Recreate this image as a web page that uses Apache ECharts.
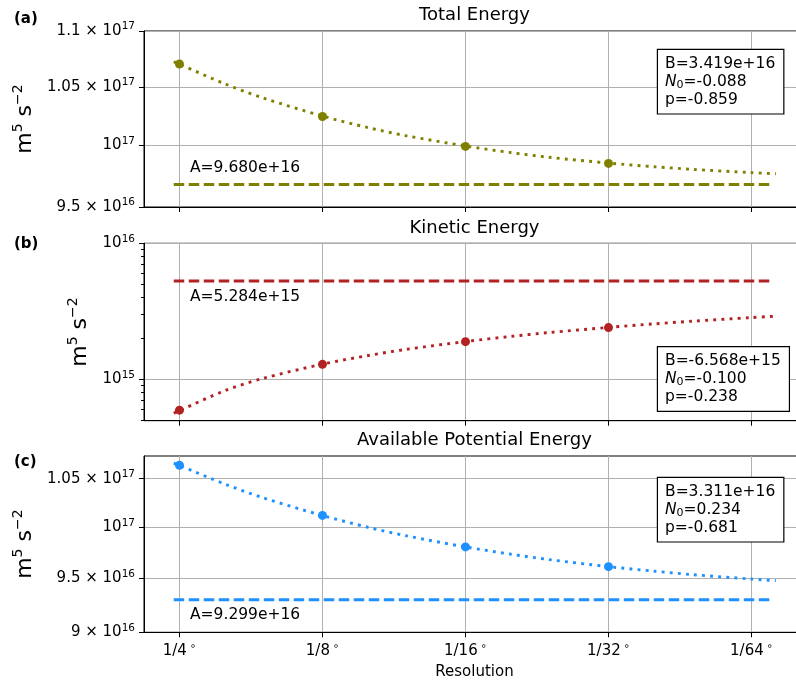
<!DOCTYPE html>
<html>
<head>
<meta charset="utf-8">
<script src="https://cdn.jsdelivr.net/npm/echarts@6/dist/echarts.min.js"></script>
<style>html,body{margin:0;padding:0;background:#fff}#chart{width:796px;height:683px}</style>
</head>
<body>
<div id="chart"></div>
<script>
// ---------------- data ----------------
const resolutionLabels = ['1/4', '1/8', '1/16', '1/32', '1/64'];
const resolutionTicks = [0, 1, 2, 3, 4];
const samplePositions = [0, 1, 2, 3];

const totalEnergy = [1.0702e17, 1.0244e17, 9.992e16, 9.851e16];
const kineticEnergy = [5.93e14, 1.288e15, 1.892e15, 2.400e15];
const apeEnergy = [1.0643e17, 1.0120e17, 9.805e16, 9.613e16];

const fitPositions = [-0.04, 0, 0.32, 0.58, 1, 1.32, 1.58, 2, 2.32, 2.58, 3, 3.32, 3.58, 4, 4.17];
const totalFit = [1.0722e17, 1.0700e17, 1.0525e17, 1.0405e17, 1.0248e17, 1.0149e17, 1.0082e17, 9.995e16, 9.940e16, 9.902e16, 9.854e16, 9.824e16, 9.803e16, 9.776e16, 9.767e16];
const kineticFit = [5.62e14, 5.89e14, 8.27e14, 1.013e15, 1.292e15, 1.496e15, 1.656e15, 1.894e15, 2.068e15, 2.204e15, 2.407e15, 2.556e15, 2.671e15, 2.844e15, 2.911e15];
const apeFit = [1.0666e17, 1.0641e17, 1.0442e17, 1.0303e17, 1.0119e17, 1.0000e17, 9.917e16, 9.805e16, 9.733e16, 9.682e16, 9.613e16, 9.569e16, 9.537e16, 9.494e16, 9.479e16];

const asymptotePositions = [-0.04, 4.15];
const asymptoteA = [9.680e16, 5.284e15, 9.299e16];
const asymptoteLabels = ['A=9.680e+16', 'A=5.284e+15', 'A=9.299e+16'];
const fitB = ['B=3.419e+16', 'B=-6.568e+15', 'B=3.311e+16'];
const fitN0 = ['=-0.088', '=-0.100', '=0.234'];
const fitP = ['p=-0.859', 'p=-0.238', 'p=-0.681'];

const titles = ['Total Energy', 'Kinetic Energy', 'Available Potential Energy'];
const panelLetters = ['(a)', '(b)', '(c)'];

const yTicksA = [9.5e16, 1e17, 1.05e17, 1.1e17];
const yTickLabelsA = ['9.5 × 10^16', '10^17', '1.05 × 10^17', '1.1 × 10^17'];
const yTicksB = [1e15, 1e16];
const yTickLabelsB = ['10^15', '10^16'];
const yMinorTicksB = [5e14, 6e14, 7e14, 8e14, 9e14, 2e15, 3e15, 4e15, 5e15, 6e15, 7e15, 8e15, 9e15];
const yTicksC = [9e16, 9.5e16, 1e17, 1.05e17];
const yTickLabelsC = ['9 × 10^16', '9.5 × 10^16', '10^17', '1.05 × 10^17'];

// ---------------- layout / style ----------------
const FONT = 'DejaVu Sans';
const colors = ['#808000', '#b22222', '#1e90ff'];
const samples = [totalEnergy, kineticEnergy, apeEnergy];
const fits = [totalFit, kineticFit, apeFit];
const yTicks = [yTicksA, yTicksB, yTicksC];
const yTickLabels = [yTickLabelsA, yTickLabelsB, yTickLabelsC];
const panels = [
  {top: 31, height: 176, ymin: 9.5e16 * 0.99999, ymax: 1.1e17 * 1.00001, nameGap: 101, titleY: 15, letterY: 19, aY: 168, boxY: 50},
  {top: 243.3, height: 177.4, ymin: 4.96e14, ymax: 1e16 * 1.00001, nameGap: 50, titleY: 228.5, letterY: 244, aY: 296.7, boxY: 347.3},
  {top: 456, height: 176.3, ymin: 9e16 * 0.99999, ymax: 1.0742e17, nameGap: 102, titleY: 440, letterY: 462, aY: 615, boxY: 478}
];
const PLOT_LEFT = 144, PLOT_WIDTH = 661;
const X_MIN = -0.248, X_MAX = 4.374;

const supRich = {
  n: {fontSize: 15, fontFamily: FONT, color: '#000', lineHeight: 20},
  s: {fontSize: 10.5, fontFamily: FONT, color: '#000', lineHeight: 9, verticalAlign: 'top'}
};
function toRich(str) {
  const parts = str.split('^');
  return parts.length > 1 ? `{n|${parts[0]}}{s|${parts[1]}}` : `{n|${parts[0]}}`;
}
function yFormatter(k) {
  return function (v) {
    const t = yTicks[k];
    for (let i = 0; i < t.length; i++) {
      if (Math.abs(v / t[i] - 1) < 1e-4) return toRich(yTickLabels[k][i]);
    }
    return '';
  };
}

const grid = panels.map(p => ({
  left: PLOT_LEFT, width: PLOT_WIDTH, top: p.top, height: p.height,
  show: true, borderColor: '#000', borderWidth: 1, backgroundColor: 'transparent',
  containLabel: false, outerBoundsMode: 'none'
}));

const xAxis = panels.map((p, k) => ({
  type: 'value', gridIndex: k, min: X_MIN, max: X_MAX,
  axisLine: {show: true, onZero: false, lineStyle: {color: '#000', width: 1}},
  axisTick: {show: true, length: 5, customValues: resolutionTicks, lineStyle: {color: '#000', width: 1}},
  axisLabel: {
    show: k === 2, customValues: resolutionTicks, margin: 9,
    formatter: v => `{n|${resolutionLabels[Math.round(v)]}}{d|∘}`,
    rich: {
      n: {fontSize: 15, fontFamily: FONT, color: '#000', lineHeight: 20},
      d: {fontSize: 10, fontFamily: FONT, color: '#000', lineHeight: 9, verticalAlign: 'top', padding: [0, 0, 0, 3]}
    }
  },
  splitLine: {show: true, lineStyle: {color: '#b0b0b0', width: 1}},
  name: k === 2 ? 'Resolution' : '', nameLocation: 'middle', nameGap: 32,
  nameTextStyle: {fontFamily: FONT, fontSize: 15, color: '#000'}
}));

const yAxis = panels.map((p, k) => ({
  type: 'log', logBase: 10, gridIndex: k, position: 'left', min: p.ymin, max: p.ymax,
  axisLine: {show: true, onZero: false, lineStyle: {color: '#000', width: 1}},
  axisTick: {show: true, length: 5, customValues: yTicks[k], lineStyle: {color: '#000', width: 1}},
  axisLabel: {customValues: yTicks[k], margin: 9, formatter: yFormatter(k), rich: supRich},
  splitLine: {show: true, lineStyle: {color: '#b0b0b0', width: 1}},
  minorTick: {show: false}, minorSplitLine: {show: false},
  name: '{m|m}{s|5}{m| s}{s|−2}', nameLocation: 'middle', nameRotate: 90, nameGap: p.nameGap,
  nameTextStyle: {
    fontFamily: FONT, fontSize: 22, color: '#000',
    rich: {
      m: {fontSize: 22, fontFamily: FONT, color: '#000', lineHeight: 28},
      s: {fontSize: 14, fontFamily: FONT, color: '#000', lineHeight: 12, verticalAlign: 'top'}
    }
  }
}));
// minor ticks of the kinetic-energy panel
yAxis.push({
  type: 'log', logBase: 10, gridIndex: 1, position: 'left', offset: 0, min: panels[1].ymin, max: panels[1].ymax,
  axisLine: {show: false, onZero: false},
  axisTick: {show: true, length: 3, customValues: yMinorTicksB, lineStyle: {color: '#000', width: 1}},
  axisLabel: {show: false}, splitLine: {show: false}
});

const series = [];
for (let k = 0; k < 3; k++) {
  series.push({
    type: 'line', xAxisIndex: k, yAxisIndex: k, silent: true, z: 2,
    data: asymptotePositions.map(x => [x, asymptoteA[k]]),
    showSymbol: false, symbol: 'none',
    lineStyle: {color: colors[k], width: 2.9, type: [10.5, 4.5], cap: 'butt'}
  });
  series.push({
    type: 'line', xAxisIndex: k, yAxisIndex: k, silent: true, z: 3,
    data: fitPositions.map((x, i) => [x, fits[k][i]]),
    smooth: 0.3, showSymbol: false, symbol: 'none',
    lineStyle: {color: colors[k], width: 2.9, type: [2.9, 5.2], cap: 'butt'}
  });
  series.push({
    type: 'scatter', xAxisIndex: k, yAxisIndex: k, z: 4,
    data: samplePositions.map((x, i) => [x, samples[k][i]]),
    symbol: 'circle', symbolSize: 9, itemStyle: {color: colors[k], opacity: 1}
  });
}

const graphic = [];
panels.forEach((p, k) => {
  graphic.push({type: 'text', x: PLOT_LEFT + PLOT_WIDTH / 2, y: p.titleY, silent: true,
    style: {text: titles[k], fontFamily: FONT, fontSize: 18, fill: '#000', align: 'center', verticalAlign: 'middle'}});
  graphic.push({type: 'text', x: 14, y: p.letterY, silent: true,
    style: {text: panelLetters[k], fontFamily: FONT, fontSize: 15, fontWeight: 'bold', fill: '#000', align: 'left', verticalAlign: 'middle'}});
  graphic.push({type: 'text', x: 190, y: p.aY, silent: true,
    style: {text: asymptoteLabels[k], fontFamily: FONT, fontSize: 15.5, fill: '#000', align: 'left', verticalAlign: 'middle'}});
  graphic.push({type: 'text', x: 658, y: p.boxY, silent: true, z: 100,
    style: {
      text: `{t|${fitB[k]}}\n{i|N}{sub|0}{t|${fitN0[k]}}\n{t|${fitP[k]}}`,
      fontFamily: FONT, fontSize: 15.5, fill: '#000', align: 'left', verticalAlign: 'top',
      backgroundColor: '#fff', borderColor: '#000', borderWidth: 1.2, padding: [5, 8, 5, 7], lineHeight: 17.8,
      rich: {
        t: {fontFamily: FONT, fontSize: 15.5, fill: '#000', lineHeight: 17.8},
        i: {fontFamily: FONT, fontSize: 15.5, fontStyle: 'italic', fill: '#000', lineHeight: 17.8},
        sub: {fontFamily: FONT, fontSize: 11, fill: '#000', lineHeight: 10, verticalAlign: 'bottom'}
      }
    }});
});

const chart = echarts.init(document.getElementById('chart'), null, {renderer: 'canvas'});
chart.setOption({
  animation: false,
  backgroundColor: '#fff',
  textStyle: {fontFamily: FONT},
  grid, xAxis, yAxis, series, graphic
});
</script>
</body>
</html>
